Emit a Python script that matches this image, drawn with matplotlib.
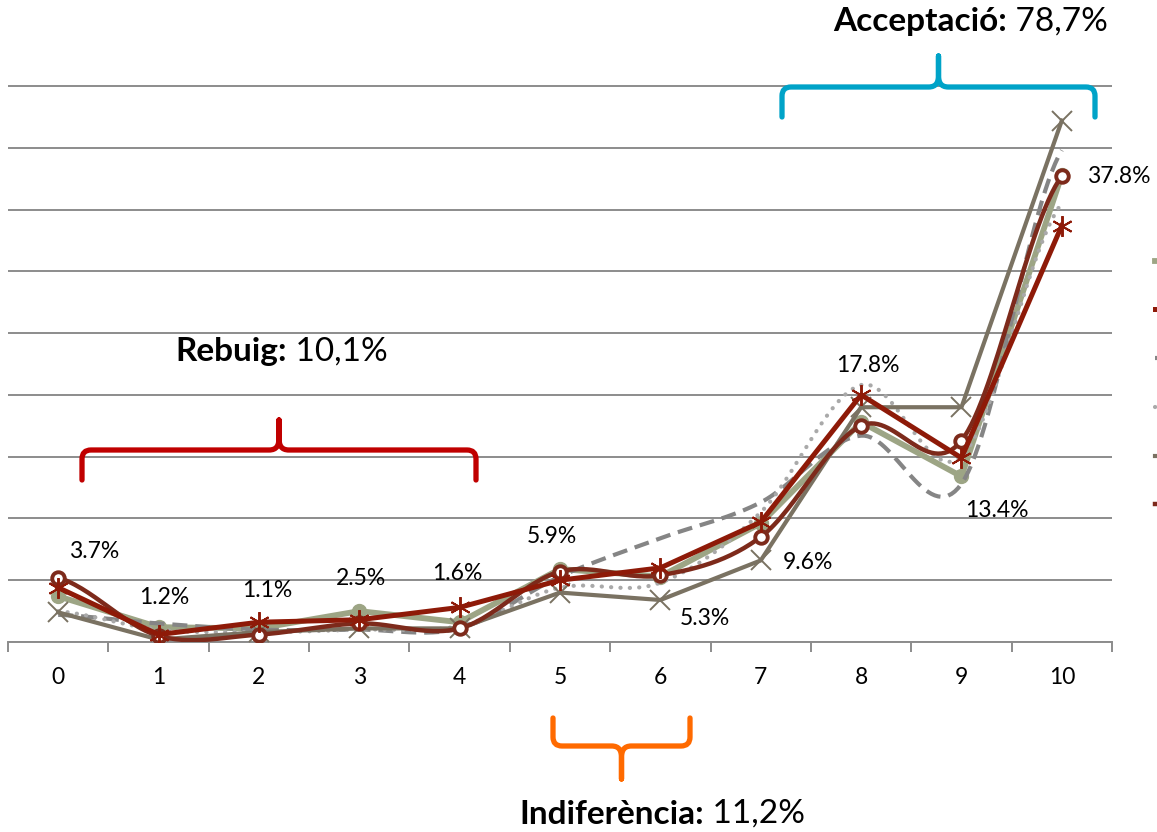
import numpy as np
import matplotlib
matplotlib.use("Agg")
import matplotlib.pyplot as plt
from matplotlib.path import Path
from matplotlib.patches import PathPatch

plt.rcParams['font.family'] = ['Lato', 'DejaVu Sans']

# ---- data -------------------------------------------------------------
scores = [0, 1, 2, 3, 4, 5, 6, 7, 8, 9, 10]
tick_labels = [str(s) for s in scores]

olive = [3.7, 1.2, 1.1, 2.5, 1.6, 5.9, 5.3, 9.6, 17.8, 13.4, 37.8]
red_star = [4.4, 0.6, 1.6, 1.8, 2.8, 5.0, 6.0, 9.7, 20.0, 14.9, 33.7]
gray_dash = [2.2, 1.5, 1.0, 1.0, 1.1, 5.3, 8.4, 11.3, 16.7, 12.8, 39.8]
light_dot = [2.5, 1.0, 0.8, 1.0, 1.3, 4.4, 4.8, 10.5, 20.8, 15.0, 35.5]
brown_x = [2.4, 0.2, 0.8, 1.1, 1.1, 4.0, 3.4, 6.6, 19.0, 19.0, 42.2]
red_circle = [5.2, 0.5, 0.6, 1.5, 1.1, 5.7, 5.4, 8.5, 17.5, 16.3, 37.7]

groups = [("Rebuig:", " 10,1%"), ("Indiferència:", " 11,2%"), ("Acceptació:", " 78,7%")]

# label offsets for the olive series (pixels, right / up)
label_offsets = [(36, 45), (6, 30), (8, 38), (2, 33), (-2, 49), (-8, 33),
                 (45, -42), (47, -39), (7, 57), (35, -34), (57, -2)]


def smooth(xs, ys, n=30):
    """Catmull-Rom curve through the points (spreadsheet-style smoothing)."""
    xs = np.asarray(xs, float)
    ys = np.asarray(ys, float)
    px = np.concatenate([[2 * xs[0] - xs[1]], xs, [2 * xs[-1] - xs[-2]]])
    py = np.concatenate([[ys[0]], ys, [ys[-1]]])
    ox, oy = [], []
    for i in range(1, len(px) - 2):
        t = np.linspace(0, 1, n, endpoint=False)
        m1x = (px[i + 1] - px[i - 1]) / 2
        m2x = (px[i + 2] - px[i]) / 2
        m1y = (py[i + 1] - py[i - 1]) / 2
        m2y = (py[i + 2] - py[i]) / 2
        h00 = 2 * t**3 - 3 * t**2 + 1
        h10 = t**3 - 2 * t**2 + t
        h01 = -2 * t**3 + 3 * t**2
        h11 = t**3 - t**2
        ox.append(h00 * px[i] + h10 * m1x + h01 * px[i + 1] + h11 * m2x)
        oy.append(h00 * py[i] + h10 * m1y + h01 * py[i + 1] + h11 * m2y)
    ox.append([xs[-1]])
    oy.append([ys[-1]])
    return np.concatenate(ox), np.concatenate(oy)


W, H = 1157, 832
fig = plt.figure(figsize=(W / 100, H / 100), dpi=100)
ax = fig.add_axes([8 / W, 190 / H, (1112 - 8) / W, 568.4 / H])

x = np.array(scores, float)
grid_c = '#8C8C8C'

# olive series with value labels
l_olive, = ax.plot(x, olive, color='#9DA585', lw=4.2, marker='o', ms=10,
                   mfc='#9DA585', mec='#9DA585', zorder=2, solid_joinstyle='round')

sx, sy = smooth(x, gray_dash)
l_dash, = ax.plot(sx, sy, color='#858585', lw=3.0, dashes=(3.6, 1.9), zorder=3)

sx, sy = smooth(x, light_dot)
l_dot, = ax.plot(sx, sy, color='#A9A9A9', lw=3.0, dashes=(0.05, 2.2),
                 dash_capstyle='round', zorder=3)

l_brown, = ax.plot(x, brown_x, color='#7A7262', lw=3.0, marker='x', ms=14,
                   mew=1.4, zorder=4)

sx, sy = smooth(x, red_circle)
l_rc, = ax.plot(sx, sy, color='#7D2A1B', lw=3.2, zorder=5)
ax.plot(x, red_circle, ls='none', marker='o', ms=9, mfc='white',
        mec='#7D2A1B', mew=2.8, zorder=5.5)

l_star, = ax.plot(x, red_star, color='#8E1A08', lw=3.6, marker=(6, 2, 0), ms=15,
                  mew=1.4, zorder=6, solid_joinstyle='round')

for xi, v, (dx, dy) in zip(x, olive, label_offsets):
    ax.annotate(f"{v:.1f}%", (xi, v), xytext=(dx * 0.72, dy * 0.72),
                textcoords='offset points', ha='center', va='center',
                fontsize=16.5, color='black', zorder=10)

ax.set_xlim(-0.5, 10.5)
ax.set_ylim(0, 46)
ax.set_yticks(np.arange(0, 46, 5))
ax.set_yticklabels([])
ax.tick_params(axis='y', length=0)
ax.grid(axis='y', color=grid_c, lw=1.4)
ax.set_axisbelow(True)
for s in ['left', 'right', 'top']:
    ax.spines[s].set_visible(False)
ax.spines['bottom'].set_color(grid_c)
ax.spines['bottom'].set_linewidth(1.4)
ax.set_xticks(x)
ax.set_xticklabels(tick_labels, fontsize=16.5)
ax.set_xticks(np.arange(-0.5, 11, 1), minor=True)
ax.tick_params(axis='x', which='major', length=0, pad=18)
ax.tick_params(axis='x', which='minor', length=7, width=1.4, color=grid_c)

# legend handles at the right edge
fig.legend(handles=[l_olive, l_star, l_dash, l_dot, l_brown, l_rc], labels=[''] * 6,
           loc='upper left', bbox_to_anchor=(1155 / W, 1 - 252 / H), frameon=False,
           fontsize=15, handlelength=2.5, labelspacing=1.38, borderpad=0,
           borderaxespad=0)

# overlay in pixel coordinates for braces and group captions
ov = fig.add_axes([0, 0, 1, 1], zorder=20)
ov.set_xlim(0, W)
ov.set_ylim(H, 0)
ov.axis('off')


def brace(x0, x1, yb, yend, ytip, color, r=9, cusp=10):
    s = 1 if yend > yb else -1
    xm = (x0 + x1) / 2
    v = [(x0, yend), (x0, yb + s * r), (x0, yb), (x0 + r, yb),
         (xm - cusp, yb), (xm - 2, yb), (xm, yb - s * 5), (xm, yb - s * 12),
         (xm, ytip),
         (xm, yb - s * 12), (xm, yb - s * 5), (xm + 2, yb), (xm + cusp, yb),
         (x1 - r, yb), (x1, yb), (x1, yb + s * r), (x1, yend)]
    c = [Path.MOVETO, Path.LINETO, Path.CURVE3, Path.CURVE3,
         Path.LINETO, Path.CURVE4, Path.CURVE4, Path.CURVE4,
         Path.LINETO,
         Path.LINETO, Path.CURVE4, Path.CURVE4, Path.CURVE4,
         Path.LINETO, Path.CURVE3, Path.CURVE3, Path.LINETO]
    ov.add_patch(PathPatch(Path(v, c), fill=False, ec=color, lw=3.8,
                           capstyle='round', joinstyle='round'))


brace(82, 476, 450, 480, 420, '#C00000')
brace(553, 690, 746, 718, 779, '#FF6A00')
brace(782, 1095, 87, 117, 56, '#00A3C8')

caption_pos = [(287, 352), (704, 814), (1007, 22)]
for (bold, rest), (cx, cy) in zip(groups, caption_pos):
    ov.text(cx, cy, bold, ha='right', va='center', fontsize=24, fontweight='bold')
    ov.text(cx, cy, rest, ha='left', va='center', fontsize=24)

fig.savefig('out.png', dpi=100)
